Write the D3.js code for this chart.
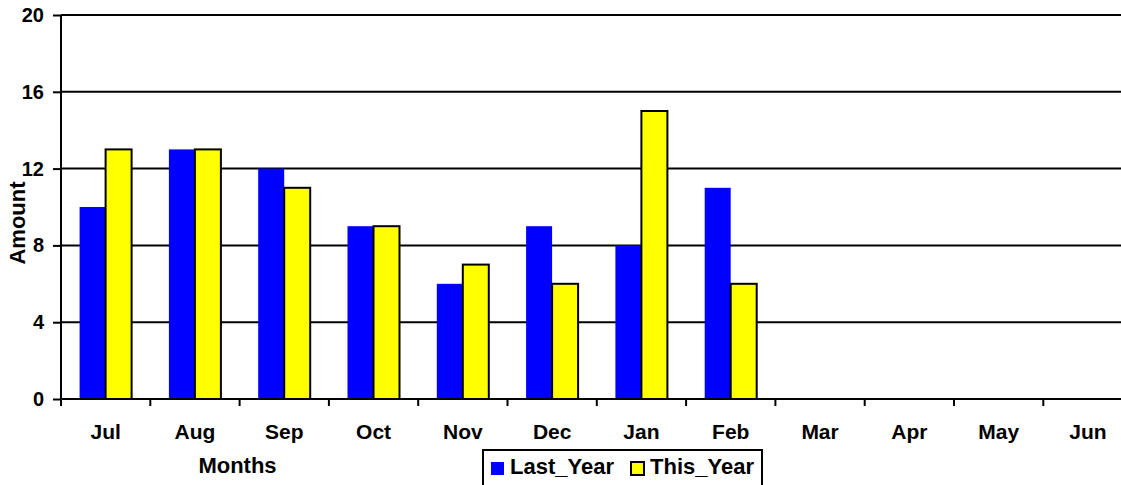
<!DOCTYPE html>
<html><head><meta charset="utf-8">
<script src="https://cdn.jsdelivr.net/npm/d3@7"></script>
<style>body{margin:0;background:#fff}svg{display:block}text{font-family:"Liberation Sans",Arial,sans-serif;font-weight:bold;fill:#000}</style>
</head><body><svg id="c" width="1121" height="485"></svg>
<script>
const months = ["Jul","Aug","Sep","Oct","Nov","Dec","Jan","Feb","Mar","Apr","May","Jun"];
const lastYear = [10,13,12,9,6,9,8,11,null,null,null,null];
const thisYear = [13,13,11,9,7,6,15,6,null,null,null,null];
const seriesNames = ["Last_Year","This_Year"];
const yTicks = [0,4,8,12,16,20];

(function(){
const svg = d3.select("#c");
const pLeft = 61, pTop = 15, pBottom = 399, band = 89.3;
const x0 = d3.scaleBand().domain(months).range([pLeft, pLeft + band*12]);
const x1 = d3.scaleBand().domain(seriesNames).range([18.6, 18.6 + 52]);
const y = d3.scaleLinear().domain([0,20]).range([pBottom, pTop]);
const colors = {Last_Year:"#0000ff", This_Year:"#ffff00"};
const data = {Last_Year:lastYear, This_Year:thisYear};
const FF = '"Liberation Sans",Arial,sans-serif';

// gridlines
svg.append("g").selectAll("line").data(yTicks.filter(d=>d>0)).join("line")
  .attr("x1", pLeft).attr("x2", 1121).attr("y1", d=>y(d)).attr("y2", d=>y(d))
  .attr("stroke","#000").attr("stroke-width",2);

// bars
seriesNames.forEach(s=>{
  svg.append("g").selectAll("rect").data(months.map((m,i)=>({m,v:data[s][i]})).filter(d=>d.v!=null)).join("rect")
    .attr("x", d=>x0(d.m)+x1(s)).attr("width", x1.bandwidth())
    .attr("y", d=>y(d.v)).attr("height", d=>y(0)-y(d.v))
    .attr("fill", colors[s])
    .attr("stroke", s==="This_Year" ? "#000" : "none").attr("stroke-width", 2);
});

// y axis
const yAxis = svg.append("g").attr("transform",`translate(${pLeft},0)`)
  .call(d3.axisLeft(y).tickValues(yTicks).tickSize(8).tickPadding(9));
yAxis.select(".domain").attr("stroke","#000").attr("stroke-width",2).attr("d",`M0,${pTop}V${pBottom}`);
yAxis.selectAll(".tick line").attr("stroke","#000").attr("stroke-width",2);
yAxis.selectAll("text").attr("font-size",20).attr("font-family",FF).attr("font-weight","bold").attr("fill","#000");

// x axis
const xAxis = svg.append("g").attr("transform",`translate(0,${pBottom})`)
  .call(d3.axisBottom(x0).tickSize(0).tickPadding(25));
xAxis.select(".domain").remove();
xAxis.selectAll("text").attr("font-size",21).attr("font-family",FF).attr("font-weight","bold").attr("fill","#000");
svg.append("line").attr("x1",pLeft).attr("x2",1121).attr("y1",pBottom).attr("y2",pBottom).attr("stroke","#000").attr("stroke-width",2);
svg.append("g").selectAll("line").data(months).join("line")
  .attr("x1",d=>x0(d)).attr("x2",d=>x0(d)).attr("y1",pBottom).attr("y2",pBottom+7)
  .attr("stroke","#000").attr("stroke-width",2);

// axis titles
svg.append("text").attr("x",237.5).attr("y",473).attr("text-anchor","middle").attr("font-size",22).text("Months");
svg.append("text").attr("transform","translate(25,223) rotate(-90)").attr("text-anchor","middle").attr("font-size",22).text("Amount");

// legend
const lg = svg.append("g");
lg.append("rect").attr("x",483).attr("y",450).attr("width",279).attr("height",50).attr("fill","#fff").attr("stroke","#000").attr("stroke-width",2);
const lx = [491, 631], tx = [510, 650];
seriesNames.forEach((s,i)=>{
  lg.append("rect").attr("x",lx[i]).attr("y",462).attr("width",13).attr("height",13)
    .attr("fill",colors[s]).attr("stroke", s==="This_Year"?"#000":"none").attr("stroke-width",2);
  lg.append("text").attr("x",tx[i]).attr("y",474).attr("font-size",22).text(s);
});
})();
</script></body></html>
